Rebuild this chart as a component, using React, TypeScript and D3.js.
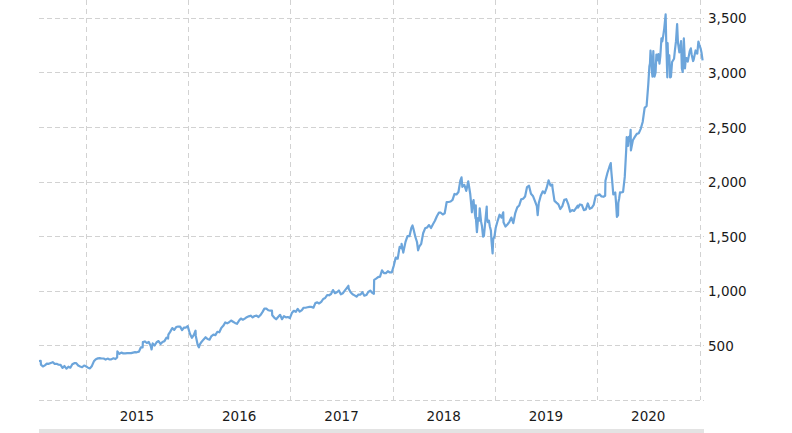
import React from "react";
import * as d3 from "d3";

const dates: string[] = [
  "2014-07-18","2014-07-24","2014-07-25","2014-08-01","2014-08-08","2014-08-15","2014-08-22","2014-08-29",
  "2014-09-05","2014-09-12","2014-09-19","2014-09-26","2014-10-03","2014-10-10","2014-10-17","2014-10-24",
  "2014-10-31","2014-11-07","2014-11-14","2014-11-21","2014-11-28","2014-12-05","2014-12-12","2014-12-19",
  "2014-12-26","2014-12-31","2015-01-09","2015-01-16","2015-01-23","2015-01-30","2015-02-06","2015-02-13",
  "2015-02-20","2015-02-27","2015-03-06","2015-03-13","2015-03-20","2015-03-27","2015-04-02","2015-04-10",
  "2015-04-17","2015-04-23","2015-04-24","2015-05-01","2015-05-08","2015-05-15","2015-05-22","2015-05-29",
  "2015-06-05","2015-06-12","2015-06-19","2015-06-26","2015-07-02","2015-07-10","2015-07-17","2015-07-23",
  "2015-07-24","2015-07-31","2015-08-07","2015-08-14","2015-08-21","2015-08-24","2015-08-28","2015-09-04",
  "2015-09-11","2015-09-18","2015-09-25","2015-10-02","2015-10-09","2015-10-16","2015-10-22","2015-10-23",
  "2015-10-30","2015-11-06","2015-11-13","2015-11-20","2015-11-27","2015-12-04","2015-12-11","2015-12-18",
  "2015-12-24","2015-12-31","2016-01-08","2016-01-15","2016-01-22","2016-01-28","2016-01-29","2016-02-05",
  "2016-02-09","2016-02-12","2016-02-19","2016-02-26","2016-03-04","2016-03-11","2016-03-18","2016-03-24",
  "2016-04-01","2016-04-08","2016-04-15","2016-04-22","2016-04-29","2016-05-06","2016-05-13","2016-05-20",
  "2016-05-27","2016-06-03","2016-06-10","2016-06-17","2016-06-24","2016-07-01","2016-07-08","2016-07-15",
  "2016-07-22","2016-07-29","2016-08-05","2016-08-12","2016-08-19","2016-08-26","2016-09-02","2016-09-09",
  "2016-09-16","2016-09-23","2016-09-30","2016-10-07","2016-10-14","2016-10-21","2016-10-27","2016-10-28",
  "2016-11-04","2016-11-11","2016-11-18","2016-11-25","2016-12-02","2016-12-09","2016-12-16","2016-12-23",
  "2016-12-30","2017-01-06","2017-01-13","2017-01-20","2017-01-27","2017-02-03","2017-02-10","2017-02-17",
  "2017-02-24","2017-03-03","2017-03-10","2017-03-17","2017-03-24","2017-03-31","2017-04-07","2017-04-13",
  "2017-04-21","2017-04-28","2017-05-05","2017-05-12","2017-05-19","2017-05-26","2017-06-02","2017-06-09",
  "2017-06-16","2017-06-23","2017-06-30","2017-07-07","2017-07-14","2017-07-21","2017-07-27","2017-07-28",
  "2017-08-04","2017-08-11","2017-08-18","2017-08-25","2017-09-01","2017-09-08","2017-09-15","2017-09-22",
  "2017-09-29","2017-10-06","2017-10-13","2017-10-20","2017-10-26","2017-10-27","2017-11-03","2017-11-10",
  "2017-11-17","2017-11-24","2017-12-01","2017-12-08","2017-12-15","2017-12-22","2017-12-29","2018-01-05",
  "2018-01-12","2018-01-19","2018-01-26","2018-02-01","2018-02-02","2018-02-08","2018-02-16","2018-02-23",
  "2018-03-02","2018-03-09","2018-03-13","2018-03-16","2018-03-23","2018-03-29","2018-04-02","2018-04-06",
  "2018-04-13","2018-04-20","2018-04-27","2018-05-04","2018-05-11","2018-05-18","2018-05-25","2018-06-01",
  "2018-06-08","2018-06-15","2018-06-22","2018-06-29","2018-07-06","2018-07-13","2018-07-20","2018-07-27",
  "2018-08-03","2018-08-10","2018-08-17","2018-08-24","2018-08-31","2018-09-04","2018-09-07","2018-09-14",
  "2018-09-21","2018-09-28","2018-10-05","2018-10-11","2018-10-17","2018-10-24","2018-10-26","2018-10-31",
  "2018-11-02","2018-11-08","2018-11-13","2018-11-20","2018-11-23","2018-11-30","2018-12-03","2018-12-07",
  "2018-12-14","2018-12-20","2018-12-24","2018-12-26","2018-12-31","2019-01-04","2019-01-11","2019-01-18",
  "2019-01-25","2019-01-31","2019-02-01","2019-02-08","2019-02-15","2019-02-22","2019-03-01","2019-03-08",
  "2019-03-15","2019-03-22","2019-03-29","2019-04-05","2019-04-12","2019-04-19","2019-04-26","2019-05-03",
  "2019-05-10","2019-05-17","2019-05-24","2019-05-31","2019-06-03","2019-06-07","2019-06-14","2019-06-21",
  "2019-06-28","2019-07-05","2019-07-12","2019-07-19","2019-07-25","2019-07-26","2019-08-02","2019-08-09",
  "2019-08-16","2019-08-23","2019-08-30","2019-09-06","2019-09-13","2019-09-20","2019-09-27","2019-10-04",
  "2019-10-11","2019-10-18","2019-10-24","2019-10-25","2019-11-01","2019-11-08","2019-11-15","2019-11-22",
  "2019-11-29","2019-12-06","2019-12-13","2019-12-20","2019-12-27","2020-01-03","2020-01-10","2020-01-17",
  "2020-01-24","2020-01-30","2020-01-31","2020-02-07","2020-02-14","2020-02-19","2020-02-21","2020-02-28",
  "2020-03-06","2020-03-12","2020-03-13","2020-03-16","2020-03-20","2020-03-27","2020-04-03","2020-04-09",
  "2020-04-14","2020-04-16","2020-04-24","2020-04-30","2020-05-01","2020-05-08","2020-05-15","2020-05-22",
  "2020-05-29","2020-06-05","2020-06-12","2020-06-19","2020-06-26","2020-07-02","2020-07-06","2020-07-10",
  "2020-07-13","2020-07-17","2020-07-20","2020-07-24","2020-07-31","2020-08-07","2020-08-14","2020-08-21",
  "2020-08-28","2020-09-02","2020-09-08","2020-09-11","2020-09-18","2020-09-25","2020-10-02","2020-10-09",
  "2020-10-13","2020-10-16","2020-10-23","2020-10-30","2020-11-06","2020-11-10","2020-11-13","2020-11-20",
  "2020-11-27","2020-12-04","2020-12-11","2020-12-18","2020-12-24","2020-12-28","2020-12-31","2021-01-05",
  "2021-01-08","2021-01-12"
];

const prices: number[] = [
  357,358,324,307,317,333,331,339,
  346,331,331,323,322,294,311,287,
  305,296,327,337,338,316,307,300,
  316,311,296,290,312,354,374,381,
  383,380,380,370,379,371,372,382,
  375,389,445,422,434,427,427,429,
  430,429,434,438,437,443,483,482,
  530,536,522,531,494,463,518,499,
  529,540,513,532,539,570,563,599,
  626,659,642,668,673,672,640,664,
  662,676,607,570,596,635,587,502,
  482,507,534,555,575,558,552,582,
  598,594,625,620,660,679,710,702,
  712,728,717,706,698,725,746,735,
  745,758,766,772,757,769,772,760,
  778,805,837,837,822,818,818,776,
  755,739,760,780,740,768,757,760,
  750,796,817,808,835,810,821,845,
  845,849,853,852,845,887,894,884,
  898,925,934,961,959,971,1007,978,
  987,1003,968,978,1001,1025,1046,1020,
  987,968,958,946,966,965,987,955,
  961,989,1002,982,973,1100,1111,1125,
  1130,1187,1162,1162,1179,1168,1169,1229,
  1305,1294,1402,1390,1430,1350,1448,1500,
  1500,1578,1598,1571,1495,1447,1371,1405,
  1430,1527,1572,1580,1602,1575,1610,1641,
  1683,1715,1715,1699,1710,1813,1813,1818,
  1833,1887,1882,1905,2012,2039,1952,1970,
  1915,2003,1889,1719,1831,1664,1642,1598,
  1665,1755,1631,1496,1502,1690,1772,1629,
  1591,1460,1343,1470,1502,1575,1641,1697,
  1670,1718,1627,1588,1607,1632,1671,1620,
  1712,1764,1781,1837,1843,1864,1950,1962,
  1889,1869,1823,1775,1692,1804,1870,1911,
  1893,1942,2011,1964,1973,1943,1823,1807,
  1792,1749,1776,1833,1839,1794,1725,1739,
  1731,1757,1780,1761,1791,1785,1739,1745,
  1800,1751,1760,1786,1869,1875,1883,1864,
  1861,1870,2008,2079,2134,2170,2095,1883,
  1901,1677,1785,1689,1846,1900,1906,2043,
  2283,2408,2410,2474,2286,2379,2409,2437,
  2443,2483,2546,2675,2692,2891,3057,3200,
  3104,2962,3196,2960,3164,3167,3148,3284,
  3401,3531,2955,3116,2954,3095,3125,3286,
  3443,3273,3205,3036,3311,3036,3128,3099,
  3195,3162,3116,3201,3172,3283,3257,3218,
  3182,3110
];

// extra mid-week readings in the most volatile stretches
const extraDates: string[] = [
  "2018-10-10","2018-10-12","2018-10-19","2018-10-25","2018-10-29","2018-11-06","2018-11-16","2018-11-26",
  "2018-12-04","2018-12-11","2018-12-18","2020-02-24","2020-03-09","2020-03-17","2020-03-23","2020-04-21",
  "2020-04-27","2020-07-08","2020-07-15","2020-07-21","2020-07-28","2020-08-04","2020-08-11","2020-08-18",
  "2020-08-25","2020-09-04","2020-09-09","2020-09-15","2020-09-21","2020-10-05","2020-10-21","2020-10-27",
  "2020-11-02","2020-11-09","2020-11-16","2020-12-01","2020-12-09","2020-12-15"
];
const extraPrices: number[] = [
  1755,1788,1764,1782,1538,1642,1593,1581,
  1668,1643,1551,2009,1800,1807,1902,2328,
  2376,3081,3008,3099,3000,3111,3080,3312,
  3346,3294,3268,3156,2960,3199,3184,3286,
  3004,3143,3131,3220,3104,3165
];

const yTicks: number[] = [500, 1000, 1500, 2000, 2500, 3000, 3500];
const yearLabels: number[] = [2015, 2016, 2017, 2018, 2019, 2020];
const yearBounds: number[] = [2015, 2016, 2017, 2018, 2019, 2020, 2021];

const W = 792;
const H = 433;
const LEFT = 39;
const RIGHT = 704;
const BOTTOM = 400;

export default function App() {
  const parse = d3.utcParse("%Y-%m-%d");
  const data = d3.sort(
    [
      ...dates.map((d, i) => ({ date: parse(d) as Date, value: prices[i] })),
      ...extraDates.map((d, i) => ({ date: parse(d) as Date, value: extraPrices[i] })),
    ],
    (d) => d.date
  );

  const x = d3
    .scaleUtc()
    .domain([new Date(Date.UTC(2014, 6, 18)), new Date(Date.UTC(2021, 0, 17))])
    .range([LEFT, RIGHT]);
  const y = d3.scaleLinear().domain([0, 3500]).range([BOTTOM, 17.8]);

  const line = d3
    .line<{ date: Date; value: number }>()
    .x((d) => x(d.date))
    .y((d) => y(d.value));

  const fmt = d3.format(",");
  const gridColor = "#d2d2d2";
  const font = "'DejaVu Sans', Verdana, sans-serif";

  return (
    <svg
      width={W}
      height={H}
      style={{ position: "absolute", left: 0, top: 0, background: "#fff" }}
    >
      {[0, ...yTicks].map((t) => (
        <line
          key={"h" + t}
          x1={LEFT}
          x2={RIGHT}
          y1={Math.round(y(t)) + 0.5}
          y2={Math.round(y(t)) + 0.5}
          stroke={gridColor}
          strokeWidth={1}
          strokeDasharray="5,3"
        />
      ))}
      {yearBounds.map((yr) => {
        const xx = Math.round(x(new Date(Date.UTC(yr, 0, 1)))) + 0.5;
        return (
          <line
            key={"v" + yr}
            x1={xx}
            x2={xx}
            y1={0}
            y2={BOTTOM}
            stroke={gridColor}
            strokeWidth={1}
            strokeDasharray="5,4"
          />
        );
      })}
      <path d={line(data) || ""} fill="none" stroke="#6ca5db" strokeWidth={2.2} strokeLinejoin="round" />
      {yTicks.map((t) => (
        <text
          key={"yl" + t}
          x={708}
          y={y(t) + 5.5}
          fontFamily={font}
          fontSize={13.5}
          fill="#1a1a1a"
        >
          {fmt(t)}
        </text>
      ))}
      {yearLabels.map((yr) => {
        const a = x(new Date(Date.UTC(yr, 0, 1)));
        const b = x(new Date(Date.UTC(yr + 1, 0, 1)));
        return (
          <text
            key={"xl" + yr}
            x={(a + b) / 2}
            y={420.5}
            textAnchor="middle"
            fontFamily={font}
            fontSize={13.5}
            fill="#1a1a1a"
          >
            {yr}
          </text>
        );
      })}
      <rect x={LEFT} y={429} width={RIGHT - LEFT} height={4} fill="#e3e3e3" />
    </svg>
  );
}
